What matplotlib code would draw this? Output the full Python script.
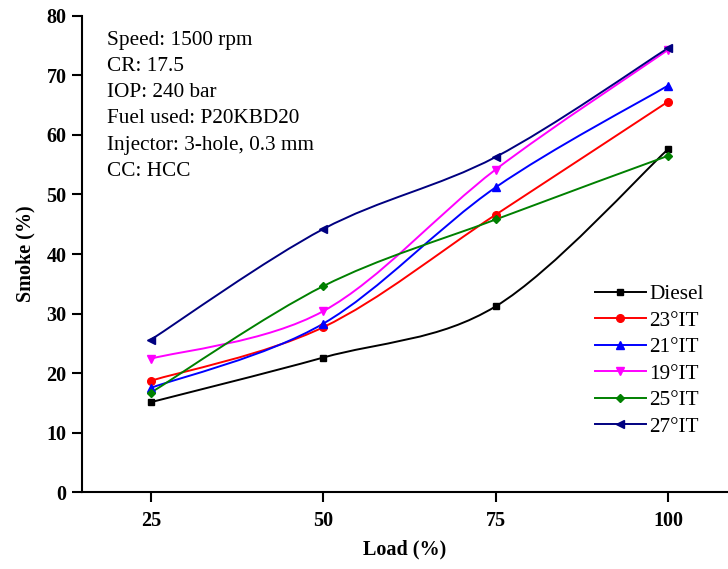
import numpy as np
import matplotlib
matplotlib.use("Agg")
import matplotlib.pyplot as plt
from matplotlib.path import Path
from matplotlib.patches import PathPatch
from matplotlib.lines import Line2D

plt.rcParams['font.family'] = ['Liberation Serif', 'DejaVu Serif']

# ================= DATA =================
load = [25, 50, 75, 100]
diesel = [15.1, 22.6, 31.2, 57.6]
it23 = [18.7, 27.7, 46.6, 65.6]
it21 = [17.5, 28.3, 51.2, 68.3]
it19 = [22.4, 30.4, 54.2, 74.3]
it25 = [16.7, 34.6, 45.8, 56.5]
it27 = [25.6, 44.2, 56.3, 74.6]

labels = ["Diesel", "23°IT", "21°IT", "19°IT", "25°IT", "27°IT"]
series = [diesel, it23, it21, it19, it25, it27]
colors = ["black", "red", "blue", "magenta", "green", "navy"]
markers = ["s", "o", "^", "v", "D", "<"]
msizes = [4.5, 5.5, 6, 6, 4.5, 6]

info = ["Speed: 1500 rpm", "CR: 17.5", "IOP: 240 bar",
        "Fuel used: P20KBD20", "Injector: 3-hole, 0.3 mm", "CC: HCC"]


def smooth_path(x, y):
    # Catmull-Rom style bezier through the data points
    x = np.asarray(x, float)
    y = np.asarray(y, float)
    verts = [(x[0], y[0])]
    codes = [Path.MOVETO]
    n = len(x)
    for i in range(n - 1):
        x0, y0 = (x[i - 1], y[i - 1]) if i > 0 else (x[i], y[i])
        x3, y3 = (x[i + 2], y[i + 2]) if i + 2 < n else (x[i + 1], y[i + 1])
        c1 = (x[i] + (x[i + 1] - x0) / 6, y[i] + (y[i + 1] - y0) / 6)
        c2 = (x[i + 1] - (x3 - x[i]) / 6, y[i + 1] - (y3 - y[i]) / 6)
        verts += [c1, c2, (x[i + 1], y[i + 1])]
        codes += [Path.CURVE4] * 3
    return Path(verts, codes)


# ================= PLOT =================
fig = plt.figure(figsize=(7.28, 5.69), dpi=100)
ax = fig.add_axes([0.1126, 0.1353, 0.8874, 0.8366])

handles = []
for ys, lab, c, m, ms in zip(series, labels, colors, markers, msizes):
    ax.add_patch(PathPatch(smooth_path(load, ys), facecolor="none",
                           edgecolor=c, lw=1.4))
    ax.plot(load, ys, ls="none", marker=m, color=c, ms=ms)
    handles.append(Line2D([], [], color=c, lw=1.4, marker=m, ms=ms, label=lab))

ax.set_xlim(15, 108.7)
ax.set_ylim(0, 80)
ax.set_xticks(load)
ax.set_yticks(np.arange(0, 81, 10))

for s in ["top", "right"]:
    ax.spines[s].set_visible(False)
for s in ["left", "bottom"]:
    ax.spines[s].set_linewidth(1.5)
ax.tick_params(direction="out", length=7, width=1.5, labelsize=14.5)
ax.tick_params(axis="x", pad=7)
ax.tick_params(axis="y", pad=4)
for t in ax.get_xticklabels() + ax.get_yticklabels():
    t.set_fontweight("bold")

ax.set_xlabel("Load (%)", fontsize=14.5, fontweight="bold", labelpad=6)
ax.set_ylabel("Smoke (%)", fontsize=14.5, fontweight="bold", labelpad=8)

for i, line in enumerate(info):
    ax.text(0.039, 0.949 - i * 0.0551, line, transform=ax.transAxes,
            fontsize=15.3, va="center", ha="left")

ax.legend(handles=handles, loc="center left", bbox_to_anchor=(0.794, 0.276),
          frameon=False, fontsize=15.3, handlelength=2.4, labelspacing=0.31,
          handletextpad=0.15, borderpad=0, borderaxespad=0)

fig.savefig("out.png", dpi=100)
